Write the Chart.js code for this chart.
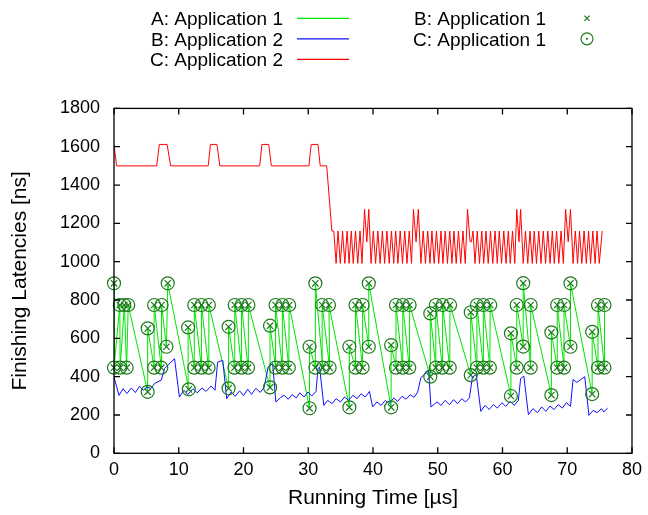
<!DOCTYPE html>
<html>
<head>
<meta charset="utf-8">
<title>Finishing Latencies</title>
<script src="https://cdn.jsdelivr.net/npm/chart.js@4.4.1/dist/chart.umd.min.js"></script>
<style>
  html, body { margin: 0; padding: 0; background: #fff; }
  #chart { display: block; }
</style>
</head>
<body>
<canvas id="chart" width="648" height="515"></canvas>
<script>
// ---- data: [running time (us), latency (ns)] ----

// A / B / C for Application 1 share the same finishing points
const app1Points = [
    [0, 887], [0, 447], [0.9, 774], [0.95, 447], [1.6, 774], [1.95, 447], [2.2, 774],
    [5.2, 321], [5.2, 652], [6.2, 447], [6.2, 774], [7.3, 447], [7.35, 774], [8.1, 556], [8.3, 887],
    [11.55, 334], [11.45, 657], [12.4, 447], [12.4, 774], [13.5, 447], [13.5, 774], [14.6, 447], [14.65, 774],
    [17.7, 339], [17.7, 660], [18.6, 447], [18.65, 774], [19.7, 447], [19.7, 774], [20.7, 447], [20.75, 774],
    [24.1, 344], [24.1, 666], [24.95, 447], [24.95, 774], [26.0, 447], [26.0, 774], [27.0, 447], [27.05, 774],
    [30.2, 235], [30.2, 556], [31.1, 447], [31.1, 887], [32.25, 447], [32.15, 774], [33.3, 447], [33.2, 774],
    [36.35, 240], [36.35, 556], [37.3, 447], [37.3, 774], [38.4, 447], [38.4, 774], [39.35, 556], [39.35, 887],
    [42.8, 240], [42.8, 565], [43.55, 447], [43.55, 774], [44.6, 447], [44.6, 774], [45.6, 447], [45.65, 774],
    [48.85, 400], [48.85, 730], [49.7, 447], [49.7, 774], [50.7, 447], [50.75, 774], [51.85, 447], [51.9, 774],
    [55.1, 408], [55.1, 736], [56.05, 447], [56.05, 774], [57.05, 447], [57.05, 774], [58.05, 447], [58.1, 774],
    [61.3, 299], [61.3, 626], [62.2, 447], [62.2, 774], [63.2, 557], [63.2, 888], [64.35, 447], [64.35, 774],
    [67.55, 304], [67.55, 631], [68.45, 447], [68.45, 774], [69.5, 447], [69.5, 774], [70.5, 556], [70.5, 887],
    [73.85, 309], [73.85, 634], [74.75, 447], [74.75, 774], [75.75, 447], [75.75, 774]
];

// B: Application 2
const app2BPoints = [
    [0, 398], [0.77, 302], [1.39, 337], [2.0, 312], [2.67, 341], [3.3, 317], [3.95, 350], [4.5, 329],
    [5.1, 346], [5.7, 338], [6.3, 365], [7.3, 382], [7.8, 442], [9.35, 494], [10.1, 294],
    [10.8, 329], [11.4, 306], [12.2, 337], [12.85, 316], [13.6, 341], [14.2, 323], [15.0, 351], [15.6, 329],
    [16.0, 476], [16.8, 485], [17.4, 285],
    [18.1, 320], [18.7, 297], [19.4, 326], [20.0, 301], [20.65, 334], [21.25, 308], [21.9, 339], [22.6, 318],
    [23.2, 346], [23.8, 450], [24.5, 468], [25.0, 268],
    [25.7, 290], [26.3, 303], [26.9, 282], [27.5, 306], [28.15, 289], [28.7, 316], [29.35, 294], [29.95, 320],
    [30.55, 299], [31.2, 323], [31.5, 442], [31.75, 450], [32.4, 250],
    [33.0, 276], [33.7, 259], [34.3, 285], [35.0, 268], [35.6, 294], [36.25, 276], [36.9, 303], [37.55, 285],
    [38.15, 311], [38.8, 294], [39.45, 323], [39.95, 242],
    [40.6, 268], [41.25, 250], [41.9, 276], [42.5, 259], [43.2, 289], [43.8, 271], [44.5, 298], [45.1, 282],
    [45.75, 306], [46.35, 292], [46.9, 320], [47.4, 395], [47.9, 410], [48.6, 430], [48.95, 242],
    [49.9, 268], [50.5, 250], [51.15, 276], [51.8, 254], [52.45, 280], [53.05, 259], [53.7, 285], [54.3, 268],
    [54.9, 290], [55.35, 398], [55.95, 410], [56.65, 219],
    [57.3, 250], [57.95, 229], [58.6, 255], [59.2, 236], [59.9, 264], [60.5, 245], [61.2, 271], [61.8, 250],
    [62.45, 276], [62.8, 390], [63.3, 403], [64.0, 202],
    [64.7, 233], [65.4, 212], [66.05, 242], [66.7, 219], [67.35, 247], [67.95, 228], [68.6, 254], [69.25, 236],
    [69.85, 264], [70.5, 245], [70.9, 385], [71.5, 370], [72.7, 400], [73.35, 198],
    [74.0, 224], [74.6, 212], [75.3, 233], [75.65, 216], [76.25, 236]
];

// C: Application 2
const app2CPoints = [
    [0, 1612], [0.4, 1500], [6.6, 1500], [7.0, 1612], [8.2, 1612], [8.75, 1500],
    [14.55, 1500], [14.9, 1612], [15.9, 1612], [16.35, 1500],
    [22.5, 1500], [22.85, 1612], [23.9, 1612], [24.3, 1500],
    [30.1, 1500], [30.45, 1612], [31.5, 1612], [31.85, 1500], [32.85, 1500], [33.65, 1160], [33.95, 1160],
    [34.3, 991], [34.6, 1160], [34.95, 991], [35.3, 1160], [35.65, 991], [36.0, 1160], [36.3, 991],
    [36.65, 1160], [36.95, 991], [37.3, 1160], [37.65, 991], [38.0, 1160], [38.3, 991],
    [38.7, 1273], [39.05, 1104], [39.35, 1273],
    [39.7, 991], [40.05, 1160], [40.4, 991], [40.75, 1160], [41.1, 991], [41.45, 1160], [41.8, 991],
    [42.15, 1160], [42.5, 991], [42.85, 1160], [43.2, 991], [43.5, 1160], [43.85, 991], [44.2, 1160],
    [44.55, 991], [44.9, 1160], [45.25, 991], [45.6, 1160], [45.95, 991],
    [46.25, 1273], [46.65, 1104], [47.0, 1273],
    [47.4, 991], [47.75, 1160], [48.1, 991], [48.45, 1160], [48.8, 991], [49.1, 1160], [49.45, 991],
    [49.8, 1160], [50.15, 991], [50.5, 1160], [50.8, 991], [51.15, 1160], [51.5, 991], [51.85, 1160],
    [52.2, 991], [52.5, 1160], [52.85, 991], [53.2, 1160], [53.55, 991], [53.9, 1160], [54.25, 991],
    [54.6, 1273], [55.0, 1104], [55.2, 1104], [55.45, 1160],
    [55.75, 991], [56.1, 1160], [56.45, 991], [56.8, 1160], [57.1, 991], [57.45, 1160], [57.8, 991],
    [58.15, 1160], [58.5, 991], [58.85, 1160], [59.2, 991], [59.5, 1160], [59.85, 991], [60.2, 1160],
    [60.55, 991], [60.9, 1160], [61.2, 991], [61.55, 1160], [61.9, 991],
    [62.2, 1273], [62.55, 1104], [62.8, 1273],
    [63.2, 991], [63.55, 1160], [63.9, 991], [64.25, 1160], [64.6, 991], [64.9, 1160], [65.25, 991],
    [65.6, 1160], [65.95, 991], [66.3, 1160], [66.65, 991], [67.0, 1160], [67.35, 991], [67.7, 1160],
    [68.0, 991], [68.35, 1160], [68.7, 991], [69.05, 1160], [69.4, 991],
    [69.75, 1273], [70.15, 1104], [70.5, 1273],
    [70.9, 991], [71.25, 1160], [71.6, 991], [71.9, 1160], [72.25, 991], [72.6, 1160], [72.95, 991],
    [73.3, 1160], [73.6, 991], [73.95, 1160], [74.3, 991], [74.6, 1160], [74.95, 991], [75.4, 1160]
];

// axis ranges / ticks
const xRange = [0, 80];
const xStep = 10;
const yRange = [0, 1800];
const yStep = 200;

// ---- styling ----
const FONT = "'Liberation Sans', Arial, Helvetica, sans-serif";
const MARK_GREEN = '#1c7a1c';
const TICK_LEN = 6;

Chart.defaults.font.family = FONT;
Chart.defaults.font.size = 18;
Chart.defaults.color = '#000';

const toXY = pts => pts.map(([x, y]) => ({ x, y }));

// gnuplot style box with inward ticks on all four sides
const frame = {
    id: 'frame',
    afterDraw(chart) {
        const { ctx, chartArea: a, scales } = chart;
        ctx.save();
        ctx.strokeStyle = '#000';
        ctx.lineWidth = 1.3;
        ctx.strokeRect(a.left, a.top, a.right - a.left, a.bottom - a.top);
        ctx.beginPath();
        scales.x.ticks.forEach(t => {
            const px = scales.x.getPixelForValue(t.value);
            ctx.moveTo(px, a.bottom);
            ctx.lineTo(px, a.bottom - TICK_LEN);
            ctx.moveTo(px, a.top);
            ctx.lineTo(px, a.top + TICK_LEN);
        });
        scales.y.ticks.forEach(t => {
            const py = scales.y.getPixelForValue(t.value);
            ctx.moveTo(a.left, py);
            ctx.lineTo(a.left + TICK_LEN, py);
            ctx.moveTo(a.right, py);
            ctx.lineTo(a.right - TICK_LEN, py);
        });
        ctx.stroke();
        ctx.restore();
    }
};

// two column key above the plot
const key = {
    id: 'key',
    afterDraw(chart) {
        const ctx = chart.ctx;
        const textRight = [283, 546];
        const baselines = [25, 45.5, 66];
        ctx.save();
        ctx.font = '19px ' + FONT;
        ctx.textAlign = 'right';
        ctx.textBaseline = 'alphabetic';
        chart.data.datasets.forEach(ds => {
            const col = ds.keyCol, row = ds.keyRow;
            const base = baselines[row];
            const midY = base - 6.7;
            ctx.fillStyle = '#000';
            ctx.fillText(ds.label, textRight[col], base);
            ctx.strokeStyle = ds.borderColor;
            ctx.lineWidth = 1.2;
            ctx.beginPath();
            if (col === 0) {
                ctx.moveTo(297, midY);
                ctx.lineTo(349, midY);
                ctx.stroke();
            } else if (ds.pointStyle === 'crossRot') {
                const h = 2.6;
                ctx.moveTo(587 - h, midY - h); ctx.lineTo(587 + h, midY + h);
                ctx.moveTo(587 - h, midY + h); ctx.lineTo(587 + h, midY - h);
                ctx.stroke();
            } else {
                ctx.arc(587, midY, 6, 0, Math.PI * 2);
                ctx.stroke();
                ctx.beginPath();
                ctx.fillStyle = ds.borderColor;
                ctx.arc(587, midY, 1.1, 0, Math.PI * 2);
                ctx.fill();
            }
        });
        ctx.restore();
    }
};

new Chart(document.getElementById('chart'), {
    type: 'scatter',
    data: {
        datasets: [
            {
                label: 'A: Application 1',
                data: toXY(app1Points),
                showLine: true,
                borderColor: '#00e400',
                borderWidth: 1,
                pointRadius: 0,
                order: 4,
                keyCol: 0, keyRow: 0
            },
            {
                label: 'B: Application 2',
                data: toXY(app2BPoints),
                showLine: true,
                borderColor: '#1010ff',
                borderWidth: 1,
                pointRadius: 0,
                order: 3,
                keyCol: 0, keyRow: 1
            },
            {
                label: 'C: Application 2',
                data: toXY(app2CPoints),
                showLine: true,
                borderColor: '#ff0000',
                borderWidth: 1,
                pointRadius: 0,
                order: 2,
                keyCol: 0, keyRow: 2
            },
            {
                label: 'B: Application 1',
                data: toXY(app1Points),
                showLine: false,
                pointStyle: 'crossRot',
                pointRadius: 4.5,
                borderColor: MARK_GREEN,
                borderWidth: 1.2,
                clip: false,
                order: 1,
                keyCol: 1, keyRow: 0
            },
            {
                label: 'C: Application 1',
                data: toXY(app1Points),
                showLine: false,
                pointStyle: 'circle',
                pointRadius: 6.5,
                borderColor: MARK_GREEN,
                backgroundColor: 'rgba(0,0,0,0)',
                borderWidth: 1.2,
                clip: false,
                order: 0,
                keyCol: 1, keyRow: 1
            }
        ]
    },
    options: {
        responsive: false,
        animation: false,
        events: [],
        layout: { padding: { top: 108.4, right: 14.5, left: 0, bottom: 0 } },
        plugins: {
            legend: { display: false },
            tooltip: { enabled: false }
        },
        scales: {
            x: {
                type: 'linear',
                min: xRange[0],
                max: xRange[1],
                grid: { display: false, drawTicks: false },
                border: { display: false },
                ticks: { stepSize: xStep, autoSkip: false, maxRotation: 0, padding: 6 },
                title: { display: true, text: 'Running Time [µs]', font: { size: 21 }, padding: { top: 0, bottom: 4 } },
                afterFit: s => { s.height = 61.7; }
            },
            y: {
                type: 'linear',
                min: yRange[0],
                max: yRange[1],
                grid: { display: false, drawTicks: false },
                border: { display: false },
                ticks: { stepSize: yStep, padding: 14, callback: v => String(v) },
                title: { display: true, text: 'Finishing Latencies [ns]', font: { size: 21 }, padding: { top: 8, bottom: 0 } },
                afterFit: s => { s.width = 114; }
            }
        }
    },
    plugins: [frame, key]
});
</script>
</body>
</html>
